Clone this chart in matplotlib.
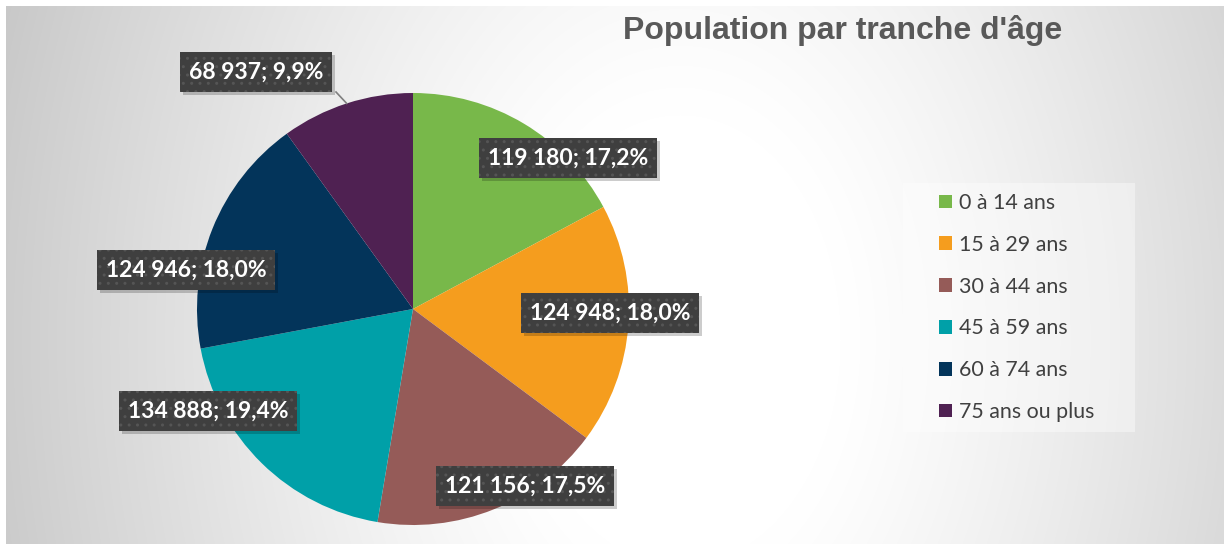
import matplotlib.pyplot as plt
import numpy as np
from matplotlib.patches import Patch, Rectangle

W, H = 1224, 544

categories = ["0 à 14 ans", "15 à 29 ans", "30 à 44 ans", "45 à 59 ans",
              "60 à 74 ans", "75 ans ou plus"]
population = [119180, 124948, 121156, 134888, 124946, 68937]
colors = ["#78b84a", "#f59d1e", "#955b58", "#00a0a8", "#03345a", "#4f2152"]
title = "Population par tranche d'âge"

# label box centres in pixel coords (from top-left), picked to match Excel's layout
label_pos = [(568, 158), (610, 313), (525, 486), (208, 411), (186, 270), (256, 72)]

pie_center = (413, 309)
pie_radius = 216

fig = plt.figure(figsize=(W / 100, H / 100), dpi=100)
fig.patch.set_facecolor("white")

# background radial gradient of the chart area
bg = fig.add_axes([0, 0, 1, 1])
bg.set_xlim(0, W)
bg.set_ylim(H, 0)
bg.axis("off")
xx, yy = np.meshgrid(np.arange(6, W), np.arange(6, H))
d = np.sqrt(((xx - 680) / 640.0) ** 2 + ((yy - 340) / 900.0) ** 2)
v = 1 - 0.18 * (np.clip(d - 0.25, 0, None) / 0.75) ** 1.2
v = np.clip(v, 0.74, 1)
bg.imshow(np.dstack([v, v, v]), extent=(6, W, H, 6), interpolation="bilinear", zorder=0)

ax = fig.add_axes([0, 0, 1, 1])
ax.patch.set_alpha(0)
total = sum(population)
wedges, _ = ax.pie(population, colors=colors, startangle=90, counterclock=False,
                   center=(pie_center[0], H - pie_center[1]), radius=pie_radius,
                   wedgeprops=dict(linewidth=0))
ax.set_xlim(0, W)
ax.set_ylim(0, H)
ax.set_aspect("equal")
ax.axis("off")

# leader line for the small slice
frac_before = sum(population[:5]) / total
mid = np.deg2rad(90 - 360 * (frac_before + population[5] / total / 2))
ex = pie_center[0] + pie_radius * np.cos(mid)
ey = H - pie_center[1] + pie_radius * np.sin(mid)
ax.plot([336, ex], [H - 92, ey], color="#7f7f7f", lw=1.2, zorder=3)

labels = []
for val, (px, py) in zip(population, label_pos):
    pct = f"{100 * val / total:.1f}".replace(".", ",")
    txt = f"{val:,}".replace(",", " ") + "; " + pct + "%"
    t = ax.text(px, H - py, txt, ha="center", va="center", color="white",
                fontsize=16.5, fontweight="bold", family="Lato", zorder=5,
                bbox=dict(boxstyle="square,pad=0.4", facecolor="#3f3f3f",
                          edgecolor="#555555", hatch="..", linewidth=0))
    labels.append(t)

fig.text(843 / W, 1 - 31 / H, title, ha="center", va="center", fontsize=23,
         fontweight="bold", family="Liberation Sans", color="#595959")

# legend
bg.add_patch(Rectangle((903, 183), 232, 249, facecolor="white", alpha=0.4,
                       edgecolor="none", zorder=1))
handles = [Patch(facecolor=c, edgecolor="none") for c in colors]
fig.legend(handles, categories, loc="upper left", frameon=False,
           bbox_to_anchor=(939 / W, 1 - 193 / H), borderpad=0, borderaxespad=0,
           handlelength=0.62, handleheight=0.62, handletextpad=0.33,
           labelspacing=1.02, prop=dict(family="Lato", size=15.4),
           labelcolor="#404040")

# soft drop shadows behind the label boxes
fig.canvas.draw()
inv = ax.transData.inverted()
for t in labels:
    bb = t.get_bbox_patch().get_window_extent()
    (x0, y0), (x1, y1) = inv.transform([(bb.x0 + 3, bb.y0 - 3), (bb.x1 + 3, bb.y1 - 3)])
    ax.add_patch(Rectangle((x0, y0), x1 - x0, y1 - y0, facecolor="black",
                           alpha=0.2, edgecolor="none", zorder=4))

fig.savefig("out.png", dpi=100)
